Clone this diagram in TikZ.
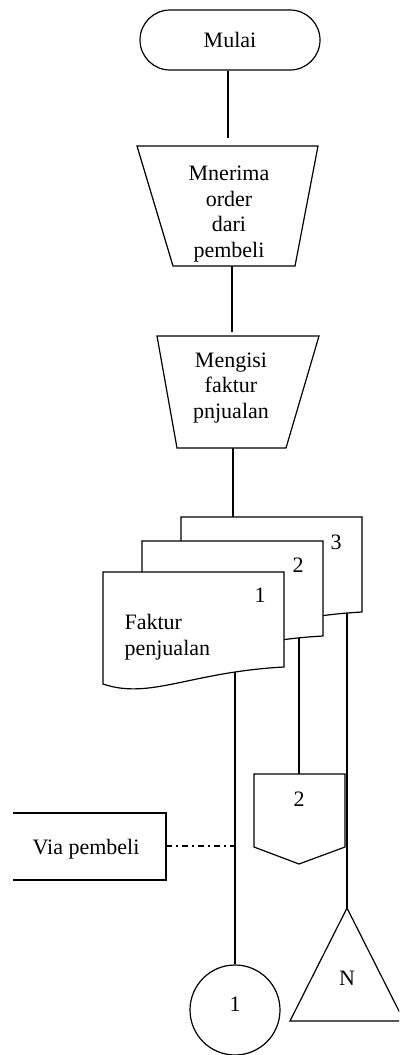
\documentclass[tikz,border=0pt]{standalone}
\usepackage{fontspec}
\setmainfont{Liberation Serif}
\usetikzlibrary{shapes.misc}
\begin{document}
\begin{tikzpicture}[x=1pt,y=-1pt,line width=1.2pt,
  lbl/.style={font=\fontsize{22}{25.5}\selectfont,align=center,inner sep=0pt},
  terminal/.style={draw,rounded rectangle,minimum width=180pt,minimum height=60pt,inner sep=0pt,font=\fontsize{22}{25.5}\selectfont},
  connector/.style={draw,circle,minimum size=90pt,inner sep=0pt,font=\fontsize{22}{25.5}\selectfont},
  shapeline/.style={draw,fill=white,line join=miter},
  flow/.style={draw},
  dashdot/.style={draw,dash pattern=on 6pt off 4pt on 2pt off 4pt},
  docsheet/.pic={
    \path[shapeline] (0,0) -- (181,0) -- (181,95)
      .. controls (87,100) and (47,128) .. (0,112) -- cycle;
  }]
\useasboundingbox (0,0) rectangle (399,1055);
\clip (0,0) rectangle (399,1055);

% start terminal
\node[terminal] (mulai) at (230,40) {Mulai};

% manual operation: receive order
\path[shapeline] (137,146) -- (318,146) -- (295,266) -- (173,266) -- cycle;
\node[lbl] (order) at (229,214) {Mnerima\\order\\dari\\pembeli};
\coordinate (orderTop) at (228,138);
\coordinate (orderBot) at (232,266);

% manual operation: fill in invoice
\path[shapeline] (157,336) -- (319,336) -- (286,448) -- (177,448) -- cycle;
\node[lbl] (isi) at (231,388) {Mengisi\\faktur\\pnjualan};
\coordinate (isiTop) at (232,332);
\coordinate (isiBot) at (233,448);

% invoice copies
\coordinate (docTop) at (233,517);
\coordinate (d1b) at (235,660);
\coordinate (d2b) at (299,630);
\coordinate (d3b) at (347,605);

% off-page connector, file, on-page connector and via box
\coordinate (offTop) at (299,774);
\coordinate (fileTop) at (347,908);
\node[connector] (c1) at (235,1010) {};
\coordinate (via) at (166,846);
\coordinate (viaJoin) at (235,846);

% flow lines
\draw[flow] (mulai.south -| orderTop) -- (orderTop);
\draw[flow] (orderBot) -- (isiTop);
\draw[flow] (isiBot) -- (docTop);
\draw[flow] (d1b) -- (c1.north);
\draw[flow] (d2b) -- (offTop);
\draw[flow] (d3b) -- (fileTop);

% stacked documents
\pic at (181,517) {docsheet};
\pic at (142,541) {docsheet};
\pic at (103,572) {docsheet};
\node[lbl] (n3) at (336,542) {3};
\node[lbl] (n2) at (298,565) {2};
\node[lbl] (n1) at (260,595) {1};
\node[lbl,align=left,anchor=west] (faktur) at (124,637) {Faktur\\penjualan};

% off-page connector 2
\path[shapeline] (254,774) -- (345,774) -- (345,847) -- (299,864) -- (254,847) -- cycle;
\node[lbl] (off2) at (299,799) {2};

% archive file N
\path[shapeline] (fileTop) -- (404,1021) -- (290,1021) -- cycle;
\node[lbl] (fileN) at (347,978) {N};

% on-page connector label
\node[lbl] (c1text) at (235,1004) {1};

% via box (open on the left)
\draw (13,813) -- (166,813) -- (166,880) -- (13,880);
\node[lbl] (viatext) at (86,849) {Via pembeli};
\draw[dashdot] (via) -- (viaJoin);
\end{tikzpicture}
\end{document}
